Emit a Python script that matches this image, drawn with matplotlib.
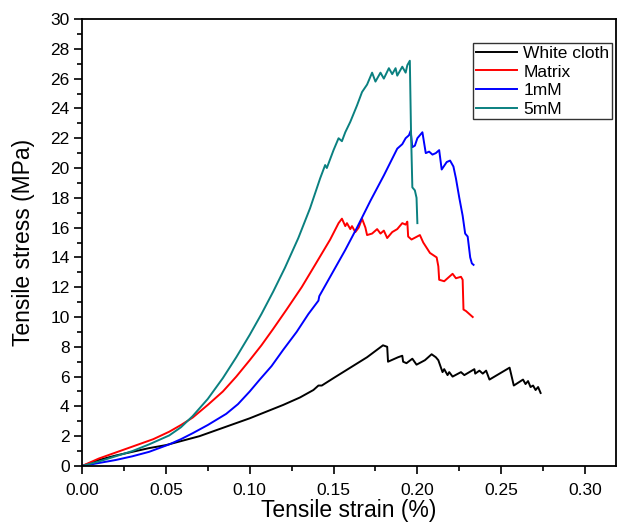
import matplotlib
matplotlib.use("Agg")
import matplotlib.pyplot as plt
from matplotlib.ticker import MultipleLocator, FormatStrFormatter

plt.rcParams['font.family'] = ['Liberation Sans', 'DejaVu Sans']

labels = ["White cloth", "Matrix", "1mM", "5mM"]
colors = ["#000000", "#ff0000", "#0000ff", "#0a8080"]

white_x = [0.0, 0.010, 0.020, 0.030, 0.040, 0.050, 0.060, 0.070, 0.080, 0.090, 0.100, 0.110, 0.120, 0.130,
           0.138, 0.141, 0.143, 0.150, 0.160, 0.170, 0.1795, 0.182, 0.1825, 0.1885, 0.191, 0.1915, 0.1935,
           0.197, 0.1995, 0.2045, 0.2085, 0.211, 0.2125, 0.215, 0.216, 0.218, 0.219, 0.221, 0.226,
           0.228, 0.231, 0.234, 0.2345, 0.237, 0.239, 0.241, 0.243, 0.249, 0.255, 0.2575, 0.263,
           0.2645, 0.266, 0.2675, 0.269, 0.2705, 0.272, 0.2735]
white_y = [0.0, 0.4, 0.7, 0.95, 1.2, 1.4, 1.7, 2.0, 2.4, 2.8, 3.2, 3.65, 4.1, 4.6,
           5.1, 5.4, 5.4, 5.9, 6.6, 7.3, 8.1, 8.0, 7.0, 7.3, 7.4, 7.0, 6.9,
           7.2, 6.8, 7.1, 7.5, 7.3, 7.1, 6.3, 6.5, 6.1, 6.3, 6.0, 6.3,
           6.1, 6.3, 6.5, 6.2, 6.4, 6.2, 6.4, 5.8, 6.2, 6.6, 5.4, 5.8,
           5.5, 5.7, 5.3, 5.4, 5.1, 5.3, 4.9]

matrix_x = [0.0, 0.010, 0.020, 0.030, 0.0425, 0.052, 0.059, 0.066, 0.075, 0.084, 0.092, 0.100, 0.107, 0.114,
            0.122, 0.131, 0.139, 0.148, 0.153, 0.155, 0.157, 0.158, 0.160, 0.161, 0.163, 0.165, 0.167,
            0.169, 0.170, 0.173, 0.176, 0.178, 0.180, 0.182, 0.185, 0.188, 0.191, 0.193, 0.194, 0.1945,
            0.1965, 0.2015, 0.2035, 0.2075, 0.2115, 0.2125, 0.213, 0.216, 0.219, 0.221, 0.223, 0.226,
            0.227, 0.2275, 0.229, 0.231, 0.233]
matrix_y = [0.0, 0.5, 0.9, 1.3, 1.8, 2.3, 2.75, 3.25, 4.1, 5.0, 6.0, 7.1, 8.1, 9.2,
            10.5, 12.0, 13.5, 15.2, 16.3, 16.6, 16.1, 16.3, 15.9, 16.1, 15.7, 16.0, 16.6,
            16.0, 15.5, 15.6, 15.9, 15.6, 15.8, 15.3, 15.7, 15.9, 16.3, 16.2, 16.4, 15.4,
            15.2, 15.5, 15.0, 14.3, 14.0, 13.4, 12.5, 12.4, 12.7, 12.9, 12.6, 12.7,
            12.5, 10.5, 10.4, 10.2, 10.0]

mm1_x = [0.0, 0.010, 0.020, 0.030, 0.040, 0.052, 0.059, 0.066, 0.075, 0.086, 0.093, 0.100, 0.106, 0.113,
         0.120, 0.128, 0.135, 0.141, 0.1415, 0.148, 0.157, 0.164, 0.172, 0.180, 0.188, 0.191, 0.193,
         0.195, 0.196, 0.197, 0.1985, 0.200, 0.203, 0.205, 0.207, 0.209, 0.211, 0.213, 0.2145,
         0.2175, 0.2195, 0.2215, 0.223, 0.225, 0.227, 0.2285, 0.230, 0.2315, 0.2325, 0.2335]
mm1_y = [0.0, 0.2, 0.4, 0.65, 0.95, 1.45, 1.8, 2.2, 2.75, 3.5, 4.15, 5.0, 5.8, 6.7,
         7.8, 9.0, 10.2, 11.1, 11.4, 12.7, 14.5, 16.0, 17.8, 19.5, 21.3, 21.6, 22.0,
         22.2, 22.5, 21.4, 21.5, 22.0, 22.4, 21.0, 21.1, 20.9, 21.0, 21.2, 19.9,
         20.4, 20.5, 20.1, 19.3, 18.0, 16.8, 15.6, 15.4, 14.0, 13.6, 13.5]

mm5_x = [0.0, 0.010, 0.020, 0.030, 0.040, 0.052, 0.059, 0.066, 0.075, 0.084, 0.092, 0.100, 0.107, 0.114,
         0.121, 0.129, 0.136, 0.142, 0.145, 0.146, 0.150, 0.153, 0.155, 0.157, 0.160, 0.164, 0.167,
         0.170, 0.173, 0.175, 0.178, 0.180, 0.183, 0.185, 0.187, 0.188, 0.191, 0.193, 0.194, 0.1955,
         0.1962, 0.197, 0.1985, 0.1995, 0.2]
mm5_y = [0.0, 0.3, 0.65, 1.0, 1.45, 2.05, 2.6, 3.35, 4.5, 5.9, 7.3, 8.8, 10.2, 11.7,
         13.3, 15.3, 17.3, 19.3, 20.2, 20.0, 21.2, 22.0, 21.8, 22.4, 23.1, 24.2, 25.1,
         25.6, 26.4, 25.8, 26.4, 26.0, 26.7, 26.3, 26.7, 26.2, 26.8, 26.4, 26.9, 27.2,
         22.5, 18.7, 18.5, 18.0, 16.3]

xs = [white_x, matrix_x, mm1_x, mm5_x]
ys = [white_y, matrix_y, mm1_y, mm5_y]

fig = plt.figure(figsize=(6.19, 5.24), dpi=100)
ax = fig.add_axes([0.1325, 0.1107, 0.8625, 0.853])

for x, y, c, l in zip(xs, ys, colors, labels):
    ax.plot(x, y, color=c, lw=1.4, label=l)

ax.set_xlim(0, 0.3184)
ax.set_ylim(0, 30)
ax.xaxis.set_major_locator(MultipleLocator(0.05))
ax.xaxis.set_minor_locator(MultipleLocator(0.025))
ax.yaxis.set_major_locator(MultipleLocator(2))
ax.yaxis.set_minor_locator(MultipleLocator(1))
ax.xaxis.set_major_formatter(FormatStrFormatter('%.2f'))
ax.tick_params(which='major', direction='out', length=6, width=1.2, labelsize=12.5)
ax.tick_params(axis='x', which='major', pad=6)
ax.tick_params(axis='y', which='major', pad=3)
ax.tick_params(which='minor', direction='out', length=3.5, width=1.2)
ax.tick_params(top=False, right=False, which='both')
for s in ax.spines.values():
    s.set_linewidth(1.3)

ax.set_xlabel("Tensile strain (%)", fontsize=16.5, labelpad=1)
ax.set_ylabel("Tensile stress (MPa)", fontsize=16.5, labelpad=11)

leg = ax.legend(loc='upper right', bbox_to_anchor=(0.993, 0.946), borderaxespad=0,
                fontsize=12.5, frameon=True, fancybox=False, handlelength=2.4,
                handletextpad=0.35, labelspacing=0.2, borderpad=0.15)
leg.get_frame().set_edgecolor('black')
leg.get_frame().set_linewidth(1.0)

fig.savefig("out.png", dpi=100)
